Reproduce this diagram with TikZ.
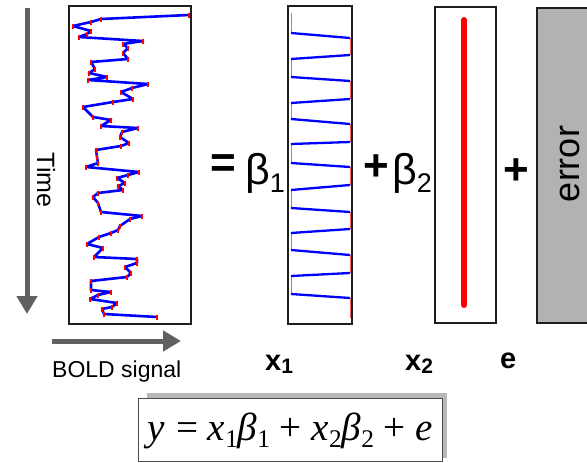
\documentclass[tikz,border=0pt]{standalone}
\usepackage{fontspec}
\usepackage{graphicx}
\setmainfont{Liberation Sans}
\newfontfamily\eqfont{Liberation Serif}
\usetikzlibrary{arrows.meta}
\definecolor{arrowgray}{gray}{0.38}
\definecolor{framecol}{gray}{0.12}
\definecolor{errgray}{gray}{0.70}
\definecolor{shadowgray}{gray}{0.72}
\definecolor{lightred}{rgb}{0.95,0.40,0.40}
\newcommand{\eqsub}[1]{\raisebox{-7pt}{\fontsize{26}{26}\selectfont\upshape #1}}
\def\sigpts{189/15,101/19,91/22,73/26,91/31,87/34,79/37,143/41,123/44,128/48,
123/53,128/59,91/62,95/69,89/73,107/77,88/80,148/84,132/88,121/92,
133/99,113/102,83/107,93/117,111/120,101/126,138/128,122/132,120/137,
129/143,121/146,96/150,97/157,98/163,86/167,139/172,128/175,117/178,
125/183,118/186,123/190,98/193,93/197,98/203,101/212,142/216,130/219,
120/226,118/230,111/233,99/237,87/244,103/248,94/257,137/259,137/263,
125/267,131/273,127/277,91/281,91/290,111/292,98/295,90/299,117/303,
112/307,102/309,104/314,157/317}
\begin{document}
\begin{tikzpicture}[x=1pt,y=-1pt,
  frame/.style={draw=framecol, line width=1.2pt, inner sep=0pt, outer sep=0pt},
  bigarrow/.style={draw=arrowgray, line width=5pt, -{Triangle[width=20pt,length=18pt,fill=arrowgray]}},
  sig/.style={draw=blue, line width=2.6pt, line join=round},
  tick/.style={draw=red, line width=1.6pt},
  regblue/.style={draw=blue, line width=2.3pt},
  regred/.style={draw=lightred, line width=1pt},
  bigsym/.style={font=\fontsize{44}{44}\selectfont\bfseries, inner sep=0pt},
  beta/.style={font=\fontsize{43}{43}\selectfont, inner sep=0pt, anchor=base west},
  lab/.style={font=\fontsize{29}{29}\selectfont\bfseries, inner sep=0pt, anchor=base west}
]
\clip (0,0) rectangle (587,463);
\useasboundingbox (0,0) rectangle (587,463);

% Time arrow
\coordinate (t0) at (27,8);
\coordinate (t1) at (27,314);
\draw[bigarrow] (t0) -- (t1);
\node[rotate=-90, font=\fontsize{25}{25}\selectfont, inner sep=0pt] (time) at (46,180) {Time};

% BOLD signal arrow
\coordinate (b0) at (52,341);
\coordinate (b1) at (181,341);
\draw[bigarrow] (b0) -- (b1);
\node[font=\fontsize{23}{23}\selectfont, inner sep=0pt, anchor=base west] (bold) at (52,377) {BOLD signal};

% Y box with signal
\node[frame, fill=white, minimum width=122pt, minimum height=318pt] (ybox) at (130,165) {};
\draw[sig] (189,15) \foreach \x/\y in \sigpts { -- (\x,\y) };
\foreach \x/\y in \sigpts
  \draw[tick] (\x,\y-2.5) -- (\x,\y+2.5);

% equals beta1
\node[bigsym] (eq) at (223,166) {=};
\node[beta] (beta1) at (245,184) {β\raisebox{-8pt}{\fontsize{27}{27}\selectfont 1}};

% X1 box
\node[frame, fill=white, minimum width=64pt, minimum height=318pt] (xone) at (320,165) {};
\foreach \a/\b in {13/33,59/77,103/119,144/163,190/208,233/250,276/294}
  \draw[regred] (291,\a) -- (291,\b);
\foreach \a/\b in {38/55,81/99,124/142,167/185,212/229,255/273,298/318}
  \draw[regred] (350,\a) -- (350,\b);
\foreach \a/\b in {33/38,77/81,119/124,163/167,208/212,250/255,294/298}
  \draw[regblue] (291,\a) -- (350,\b);
\foreach \a/\b in {55/59,99/103,142/144,185/190,229/233,273/276}
  \draw[regblue] (350,\a) -- (291,\b);

% plus beta2
\node[bigsym] (plusone) at (376,168) {+};
\node[beta] (beta2) at (392,184) {β\raisebox{-8pt}{\fontsize{27}{27}\selectfont 2}};

% X2 box
\node[frame, fill=white, minimum width=61pt, minimum height=316pt] (xtwo) at (465.5,165) {};
\coordinate (r0) at (464,20);
\coordinate (r1) at (464,305);
\draw[red, line width=6pt, line cap=round] (r0) -- (r1);

% plus error
\node[bigsym] (plustwo) at (516,172) {+};
\node[frame, fill=errgray, minimum width=83pt, minimum height=315pt] (errbox) at (578.5,165.5) {};
\node[rotate=90, font=\fontsize{36}{36}\selectfont, inner sep=0pt] (errtxt) at (570,164) {error};

% bottom labels
\node[lab] (lx1) at (265,370) {x\raisebox{-3pt}{\fontsize{21}{21}\selectfont\bfseries 1}};
\node[lab] (lx2) at (405,370) {x\raisebox{-3pt}{\fontsize{21}{21}\selectfont\bfseries 2}};
\node[lab] (le) at (500,368) {e};

% equation box
\node[fill=shadowgray, draw=none, minimum width=300pt, minimum height=65pt, inner sep=0pt] (eqshadow) at (297,425.5) {};
\node[draw=black!70, line width=0.8pt, fill=white, minimum width=304pt, minimum height=63pt, inner sep=0pt] (eqbox) at (290,429.5) {};
\node[inner sep=0pt] (eqn) at (290,431) {\resizebox{286pt}{!}{\eqfont\fontsize{40}{40}\selectfont\itshape y\kern2pt\upshape{} = \itshape x\eqsub{1}β\eqsub{1}\upshape{} + \itshape x\eqsub{2}β\eqsub{2}\upshape{} + \itshape e}};
\end{tikzpicture}
\end{document}
